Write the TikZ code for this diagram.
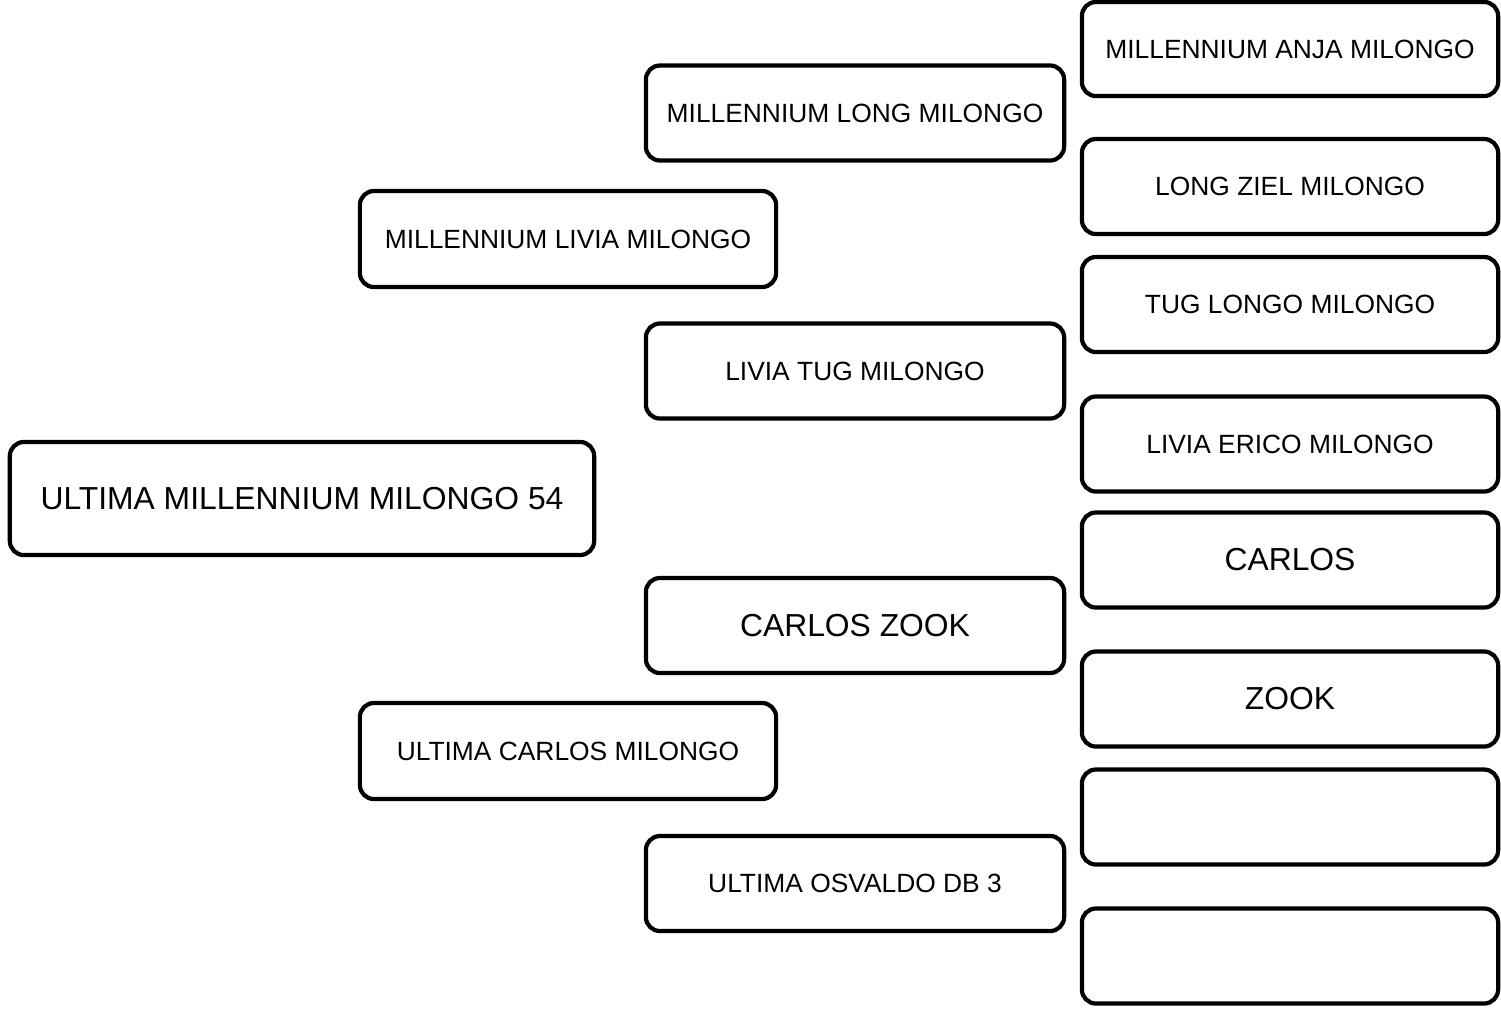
\documentclass[tikz,border=0pt]{standalone}
\usepackage{fontspec}
\setmainfont{Liberation Sans}
\usetikzlibrary{positioning}
\tikzset{pbox/.style={draw=black,line width=1.2pt,rounded corners=4pt,fill=white,inner sep=0pt,align=center,minimum width=4.16cm,minimum height=.95cm,font=\fontsize{7.5}{9}\selectfont},
bigtxt/.style={font=\fontsize{9.05}{11}\selectfont}}
\begin{document}
\begin{tikzpicture}[x=.01cm,y=-.01cm]
\useasboundingbox (0,0) rectangle (1501,1011);
% generation 0
\node[pbox,bigtxt,minimum width=5.84cm,minimum height=1.13cm] (p0) at (302,498.5){ULTIMA MILLENNIUM MILONGO 54};
% parents
\node[pbox,minimum height=.96cm] (s1) at (568,239){MILLENNIUM LIVIA MILONGO};
\node[pbox,minimum height=.96cm] (d1) at (568,751){ULTIMA CARLOS MILONGO};
% grandparents
\node[pbox,minimum width=4.18cm] (ss2) at (855,113){MILLENNIUM LONG MILONGO};
\node[pbox,minimum width=4.18cm] (sd2) at (855,371){LIVIA TUG MILONGO};
\node[pbox,bigtxt,minimum width=4.18cm] (ds2) at (855,625.5){CARLOS ZOOK};
\node[pbox,minimum width=4.18cm] (dd2) at (855,883.5){ULTIMA OSVALDO DB 3};
% great-grandparents
\node[pbox,minimum height=.94cm] (g1) at (1290,49){MILLENNIUM ANJA MILONGO};
\node[pbox] (g2) at (1290,186.5){LONG ZIEL MILONGO};
\node[pbox] (g3) at (1290,304.5){TUG LONGO MILONGO};
\node[pbox] (g4) at (1290,444){LIVIA ERICO MILONGO};
\node[pbox,bigtxt] (g5) at (1290,560){CARLOS};
\node[pbox,bigtxt] (g6) at (1290,699){ZOOK};
\node[pbox] (g7) at (1290,817){};
\node[pbox] (g8) at (1290,956){};
\end{tikzpicture}
\end{document}
